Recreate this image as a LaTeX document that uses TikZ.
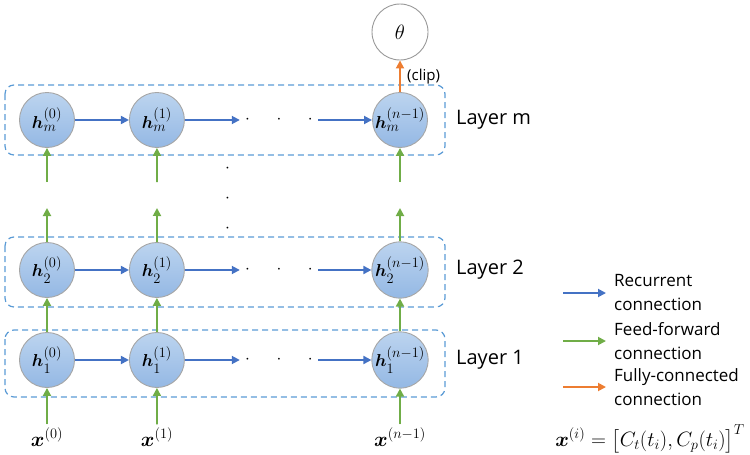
\documentclass[tikz,border=0pt]{standalone}
\usepackage{amsmath}
\usepackage{amssymb}
\usepackage[no-math]{fontspec}
\setmainfont{Open Sans}
\usepackage{tikz}
\usetikzlibrary{positioning,arrows.meta}
\usepackage{xcolor}
\definecolor{recblue}{HTML}{4472C4}
\definecolor{ffgreen}{HTML}{70AD47}
\definecolor{fcorange}{HTML}{ED7D31}
\definecolor{boxblue}{HTML}{5B9BD5}
\definecolor{celltop}{HTML}{BCD4EF}
\definecolor{cellbot}{HTML}{94B8E4}

\begin{document}
\begin{tikzpicture}[
    x=1pt, y=-1pt,
    cell/.style={circle, draw=gray!70, line width=0.9pt, top color=celltop, bottom color=cellbot, minimum size=55pt, inner sep=0pt, font=\fontsize{19}{19}\selectfont},
    outcell/.style={circle, draw=gray!80, line width=0.9pt, fill=white, minimum size=56pt, inner sep=0pt, font=\fontsize{22}{22}\selectfont},
    layerbox/.style={draw=boxblue, dash pattern=on 6pt off 4pt, rounded corners=9pt, line width=1.2pt},
    hdots/.style={minimum width=78pt, inner sep=0pt, font=\fontsize{16}{16}\selectfont},
    rec/.style={-{Triangle[length=8pt,width=8pt]}, draw=recblue, fill=recblue, line width=1.8pt},
    ff/.style={-{Triangle[length=8pt,width=8pt]}, draw=ffgreen, fill=ffgreen, line width=1.8pt},
    fc/.style={-{Triangle[length=8pt,width=8pt]}, draw=fcorange, fill=fcorange, line width=1.8pt},
    layerlabel/.style={anchor=west, inner sep=0pt, font=\fontsize{20}{20}\selectfont},
    inlabel/.style={font=\fontsize{21}{21}\selectfont},
    legtext/.style={anchor=west, align=left, inner xsep=8pt, inner ysep=0pt, font=\fontsize{17}{24}\selectfont}
]
\useasboundingbox (0,0) rectangle (750,455);

% dashed layer boxes
\draw[layerbox] (5,85) rectangle (445,155);
\draw[layerbox] (5,237) rectangle (445,307);
\draw[layerbox] (5,330) rectangle (445,397);

% layer 1
\node[cell] (h10) at (47,360) {$\boldsymbol{h}_1^{(0)}$};
\node[cell, right=54pt of h10] (h11) {$\boldsymbol{h}_1^{(1)}$};
\node[cell] (h1n) at (400,360) {$\boldsymbol{h}_1^{(n-1)}$};
\node[hdots] (d1) at (279,360) {$\cdot$\hspace{26.6pt}$\cdot$\hspace{26.6pt}$\cdot$};

% layer 2
\node[cell] (h20) at (47,270) {$\boldsymbol{h}_2^{(0)}$};
\node[cell, right=54pt of h20] (h21) {$\boldsymbol{h}_2^{(1)}$};
\node[cell] (h2n) at (400,270) {$\boldsymbol{h}_2^{(n-1)}$};
\node[hdots] (d2) at (279,270) {$\cdot$\hspace{26.6pt}$\cdot$\hspace{26.6pt}$\cdot$};

% layer m
\node[cell] (hm0) at (47,120) {$\boldsymbol{h}_m^{(0)}$};
\node[cell, right=54pt of hm0] (hm1) {$\boldsymbol{h}_m^{(1)}$};
\node[cell] (hmn) at (400,120) {$\boldsymbol{h}_m^{(n-1)}$};
\node[hdots] (dm) at (279,120) {$\cdot$\hspace{26.6pt}$\cdot$\hspace{26.6pt}$\cdot$};

% vertical dots
\node[hdots, rotate=90] (vd) at (228,198) {$\cdot$\hspace{25.6pt}$\cdot$\hspace{25.6pt}$\cdot$};

% output
\node[outcell] (theta) at (400,32) {$\theta$};

% inputs
\node[inlabel] (x0) at (47,437) {$\boldsymbol{x}^{(0)}$};
\node[inlabel] (x1) at (157,437) {$\boldsymbol{x}^{(1)}$};
\node[inlabel] (xn) at (400,437) {$\boldsymbol{x}^{(n-1)}$};

% layer labels
\node[layerlabel] (lm) at (456,120) {Layer m};
\node[layerlabel] (l2) at (456,270) {Layer 2};
\node[layerlabel] (l1) at (456,360) {Layer 1};

% recurrent connections
\draw[rec] (h10) -- (h11);
\draw[rec] (h11) -- (d1.west);
\draw[rec] (d1.east) -- (h1n);
\draw[rec] (h20) -- (h21);
\draw[rec] (h21) -- (d2.west);
\draw[rec] (d2.east) -- (h2n);
\draw[rec] (hm0) -- (hm1);
\draw[rec] (hm1) -- (dm.west);
\draw[rec] (dm.east) -- (hmn);

% feed-forward connections
\draw[ff] (x0) -- (h10);
\draw[ff] (x1) -- (h11);
\draw[ff] (xn) -- (h1n);
\draw[ff] (h10) -- (h20);
\draw[ff] (h11) -- (h21);
\draw[ff] (h1n) -- (h2n);
\coordinate (up0) at (47,208);
\coordinate (up1) at (157,208);
\coordinate (upn) at (400,208);
\draw[ff] (h20) -- (up0);
\draw[ff] (h21) -- (up1);
\draw[ff] (h2n) -- (upn);
\coordinate (lo0) at (47,182);
\coordinate (lo1) at (157,182);
\coordinate (lon) at (400,182);
\draw[ff] (lo0) -- (hm0);
\draw[ff] (lo1) -- (hm1);
\draw[ff] (lon) -- (hmn);

% fully-connected
\draw[fc] (hmn) -- node[right=3pt, font=\fontsize{15}{15}\selectfont] (clip) {(clip)} (theta);

% legend
\node[legtext] (legrec) at (606,293) {Recurrent\\connection};
\node[legtext] (legff) at (606,341) {Feed-forward\\connection};
\node[legtext] (legfc) at (606,387) {Fully-connected\\connection};
\coordinate (recstart) at (563,293);
\coordinate (ffstart) at (563,341);
\coordinate (fcstart) at (563,387);
\draw[rec] (recstart) -- (legrec.west);
\draw[ff] (ffstart) -- (legff.west);
\draw[fc] (fcstart) -- (legfc.west);

\node[inner sep=0pt, font=\fontsize{19.5}{19.5}\selectfont] (formula) at (650,439) {$\boldsymbol{x}^{(i)}=\big[C_t(t_i),C_p(t_i)\big]^T$};

\end{tikzpicture}
\end{document}
